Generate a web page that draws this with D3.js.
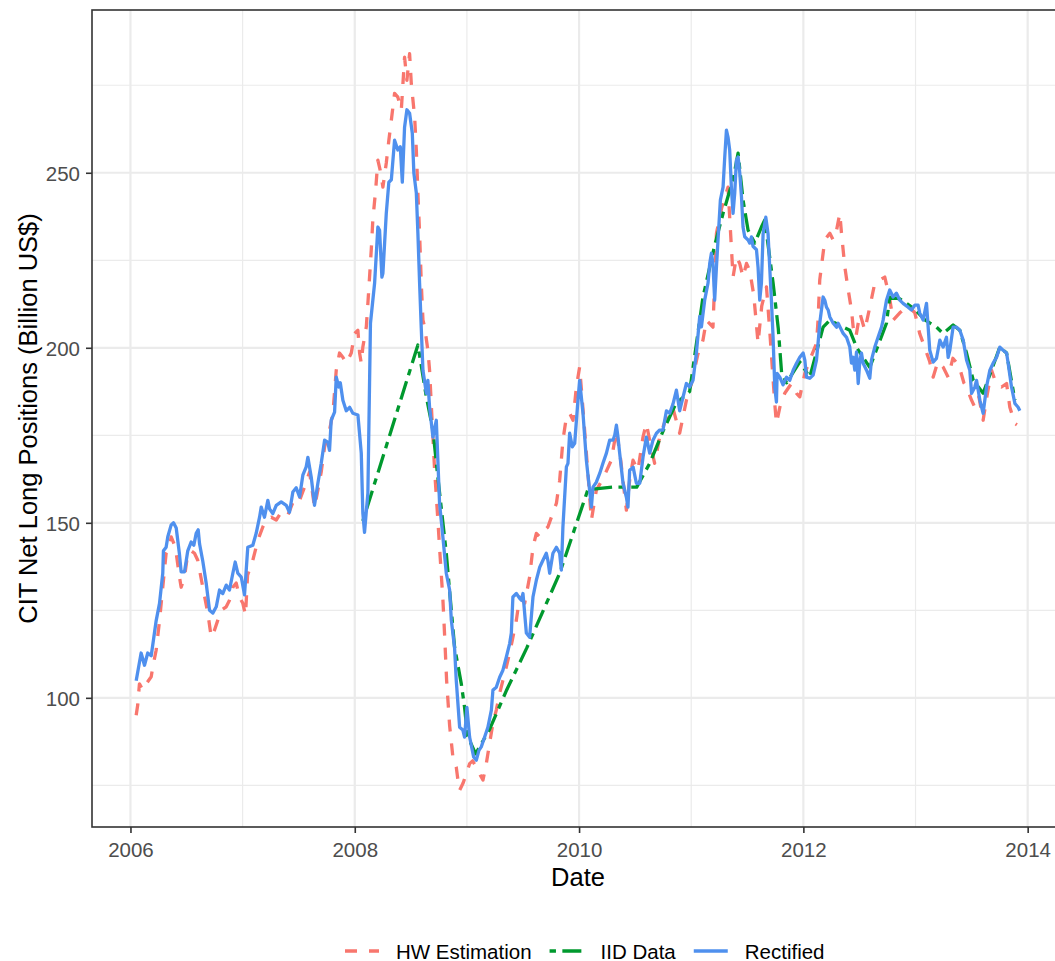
<!DOCTYPE html>
<html>
<head>
<meta charset="utf-8">
<script src="https://cdn.jsdelivr.net/npm/d3@7"></script>
<style>
  body { margin: 0; background: #ffffff; }
  svg { display: block; }
  text { font-family: "Liberation Sans", Arial, Helvetica, sans-serif; }
</style>
</head>
<body>
<svg id="chart" width="1055" height="961"></svg>
<script>
// ---- data (dates as decimal years, values in billion US$) ----
const seriesNames = ["HW Estimation", "IID Data", "Rectified"];
const xTickYears = [2006, 2008, 2010, 2012, 2014];
const xMinorYears = [2007, 2009, 2011, 2013];
const yTickValues = [100, 150, 200, 250];
const yMinorValues = [75, 125, 175, 225, 275];

const rectDates = [
  2006.051, 2006.095, 2006.125, 2006.154, 2006.185, 2006.205, 2006.229, 2006.259, 2006.288, 2006.294,
  2006.318, 2006.333, 2006.363, 2006.384, 2006.408, 2006.437, 2006.452, 2006.482, 2006.511, 2006.541,
  2006.565, 2006.586, 2006.604, 2006.616, 2006.645, 2006.675, 2006.705, 2006.734, 2006.765, 2006.794,
  2006.823, 2006.854, 2006.883, 2006.913, 2006.934, 2006.957, 2006.988, 2007.017, 2007.046, 2007.091,
  2007.121, 2007.151, 2007.166, 2007.195, 2007.225, 2007.240, 2007.269, 2007.300, 2007.344, 2007.389,
  2007.418, 2007.448, 2007.478, 2007.508, 2007.537, 2007.567, 2007.582, 2007.612, 2007.641, 2007.671,
  2007.701, 2007.731, 2007.760, 2007.775, 2007.790, 2007.820, 2007.835, 2007.858, 2007.871, 2007.894,
  2007.924, 2007.954, 2007.983, 2008.028, 2008.058, 2008.072, 2008.087, 2008.117, 2008.140, 2008.177,
  2008.206, 2008.221, 2008.242, 2008.251, 2008.281, 2008.304, 2008.326, 2008.355, 2008.384, 2008.406,
  2008.424, 2008.444, 2008.465, 2008.489, 2008.513, 2008.527, 2008.549, 2008.563, 2008.578, 2008.593,
  2008.608, 2008.638, 2008.652, 2008.667, 2008.697, 2008.727, 2008.741, 2008.756, 2008.786, 2008.816,
  2008.846, 2008.861, 2008.890, 2008.905, 2008.935, 2008.964, 2008.979, 2009.000, 2009.024, 2009.060,
  2009.084, 2009.107, 2009.128, 2009.158, 2009.187, 2009.218, 2009.232, 2009.262, 2009.292, 2009.321,
  2009.351, 2009.381, 2009.396, 2009.410, 2009.441, 2009.470, 2009.485, 2009.500, 2009.530, 2009.559,
  2009.589, 2009.619, 2009.649, 2009.678, 2009.708, 2009.722, 2009.738, 2009.767, 2009.798, 2009.827,
  2009.842, 2009.856, 2009.887, 2009.901, 2009.916, 2009.940, 2009.961, 2009.990, 2010.005, 2010.035,
  2010.065, 2010.094, 2010.110, 2010.124, 2010.154, 2010.184, 2010.213, 2010.244, 2010.273, 2010.302,
  2010.318, 2010.333, 2010.347, 2010.362, 2010.392, 2010.422, 2010.436, 2010.451, 2010.482, 2010.511,
  2010.541, 2010.570, 2010.600, 2010.630, 2010.659, 2010.690, 2010.719, 2010.748, 2010.779, 2010.808,
  2010.838, 2010.868, 2010.897, 2010.927, 2010.957, 2010.986, 2011.016, 2011.046, 2011.076, 2011.091,
  2011.120, 2011.150, 2011.165, 2011.180, 2011.194, 2011.209, 2011.225, 2011.239, 2011.260, 2011.284,
  2011.299, 2011.314, 2011.328, 2011.343, 2011.358, 2011.373, 2011.388, 2011.403, 2011.418, 2011.433,
  2011.448, 2011.462, 2011.477, 2011.507, 2011.522, 2011.537, 2011.551, 2011.582, 2011.596, 2011.611,
  2011.626, 2011.641, 2011.665, 2011.685, 2011.700, 2011.715, 2011.730, 2011.745, 2011.760, 2011.766,
  2011.790, 2011.819, 2011.850, 2011.879, 2011.909, 2011.939, 2011.968, 2011.998, 2012.013, 2012.028,
  2012.057, 2012.087, 2012.117, 2012.131, 2012.146, 2012.176, 2012.191, 2012.206, 2012.221, 2012.236,
  2012.266, 2012.296, 2012.310, 2012.355, 2012.385, 2012.414, 2012.429, 2012.444, 2012.459, 2012.474,
  2012.489, 2012.504, 2012.518, 2012.533, 2012.563, 2012.592, 2012.607, 2012.637, 2012.666, 2012.697,
  2012.711, 2012.741, 2012.770, 2012.800, 2012.830, 2012.860, 2012.889, 2012.934, 2012.964, 2012.994,
  2013.023, 2013.038, 2013.068, 2013.098, 2013.127, 2013.157, 2013.187, 2013.217, 2013.246, 2013.276,
  2013.291, 2013.306, 2013.335, 2013.366, 2013.395, 2013.425, 2013.455, 2013.484, 2013.500, 2013.529,
  2013.544, 2013.574, 2013.603, 2013.633, 2013.663, 2013.692, 2013.723, 2013.752, 2013.781, 2013.812,
  2013.826, 2013.856, 2013.886, 2013.915, 2013.930
];
const rectValues = [
  104.9, 112.8, 109.3, 112.8, 112.0, 116.5, 122.0, 127.0, 135.6, 142.0,
  143.0, 146.0, 149.4, 150.0, 148.5, 141.0, 136.0, 136.0, 142.0, 144.5,
  143.6, 147.0, 148.0, 144.0, 139.0, 132.8, 125.0, 124.2, 126.0, 130.8,
  129.8, 132.2, 130.8, 135.6, 138.8, 135.6, 134.5, 129.4, 143.0, 143.6,
  147.0, 151.6, 154.5, 151.6, 156.4, 154.0, 152.6, 155.0, 156.0, 155.0,
  153.0, 158.8, 160.0, 157.4, 163.6, 166.0, 168.7, 163.0, 155.0, 161.3,
  167.0, 173.6, 173.0, 170.7, 179.3, 181.6, 191.6, 188.8, 190.0, 185.0,
  182.0, 183.0, 181.3, 180.8, 169.9, 152.8, 147.3, 158.5, 207.0, 218.5,
  234.5, 233.6, 220.2, 221.3, 238.4, 247.3, 248.0, 259.3, 256.5, 257.4,
  247.3, 263.0, 268.0, 267.0, 261.3, 249.9, 244.2, 232.7, 218.5, 205.6,
  193.6, 187.0, 190.7, 183.0, 174.5, 179.3, 167.9, 155.6, 145.9, 135.6,
  130.8, 122.2, 114.2, 105.0, 91.6, 90.8, 88.8, 97.3, 88.8, 83.1,
  82.2, 85.0, 86.0, 88.8, 91.6, 96.5, 102.2, 103.0, 105.9, 107.9,
  111.6, 115.5, 118.5, 128.8, 129.8, 128.4, 127.9, 129.8, 118.5, 117.3,
  128.8, 133.6, 137.3, 139.3, 141.3, 139.3, 135.6, 141.3, 143.0, 141.3,
  136.5, 148.8, 166.0, 167.0, 175.6, 171.7, 172.7, 185.0, 190.7, 181.3,
  167.9, 159.3, 154.5, 160.2, 161.6, 164.1, 167.0, 169.9, 173.6, 173.6,
  175.0, 177.9, 174.5, 169.9, 161.3, 157.3, 154.5, 165.0, 165.9, 161.3,
  161.3, 168.7, 174.5, 169.9, 173.6, 175.6, 176.5, 176.5, 182.0, 181.3,
  184.0, 187.9, 182.0, 185.9, 189.8, 188.8, 190.7, 198.5, 209.0, 206.0,
  213.6, 218.5, 224.1, 227.0, 224.1, 213.6, 223.0, 230.8, 242.2, 245.9,
  254.5, 262.2, 260.2, 256.5, 245.9, 238.4, 244.2, 253.6, 254.5, 249.9,
  243.2, 234.5, 231.7, 230.8, 229.9, 231.7, 229.0, 228.0, 223.0, 213.6,
  218.5, 232.6, 237.3, 232.6, 223.0, 213.6, 203.0, 188.8, 184.5, 192.7,
  191.6, 189.4, 191.6, 190.7, 193.6, 195.6, 197.3, 198.5, 196.5, 191.6,
  191.3, 192.2, 196.5, 201.3, 207.0, 214.5, 213.6, 211.6, 210.8, 208.8,
  207.0, 205.9, 207.0, 204.1, 203.0, 200.2, 195.6, 197.3, 193.6, 198.8,
  189.8, 196.5, 198.5, 195.6, 193.6, 191.3, 196.5, 200.2, 203.0, 205.9,
  207.9, 213.6, 216.5, 214.5, 215.6, 213.6, 212.7, 211.6, 210.8, 212.2,
  212.2, 209.9, 207.9, 212.7, 199.3, 195.9, 197.0, 202.2, 200.2, 203.0,
  197.3, 199.3, 205.9, 205.9, 205.0, 202.2, 196.5, 193.6, 187.0, 188.8,
  190.7, 185.0, 181.3, 188.8, 193.6, 195.6, 197.3, 200.2, 199.3, 198.5,
  195.6, 188.8, 184.1, 183.0, 182.0
];

const hwDates = [
  2006.051, 2006.065, 2006.080, 2006.110, 2006.140, 2006.185, 2006.199, 2006.229, 2006.259, 2006.288,
  2006.318, 2006.348, 2006.363, 2006.401, 2006.437, 2006.452, 2006.482, 2006.511, 2006.541, 2006.571,
  2006.600, 2006.616, 2006.645, 2006.690, 2006.720, 2006.749, 2006.779, 2006.809, 2006.854, 2006.883,
  2006.913, 2006.943, 2006.972, 2007.002, 2007.026, 2007.044, 2007.091, 2007.136, 2007.180, 2007.211,
  2007.255, 2007.300, 2007.344, 2007.401, 2007.463, 2007.508, 2007.552, 2007.597, 2007.641, 2007.671,
  2007.701, 2007.731, 2007.775, 2007.805, 2007.835, 2007.864, 2007.894, 2007.924, 2007.969, 2007.998,
  2008.028, 2008.043, 2008.058, 2008.072, 2008.103, 2008.117, 2008.147, 2008.161, 2008.186, 2008.206,
  2008.227, 2008.251, 2008.281, 2008.304, 2008.326, 2008.355, 2008.384, 2008.415, 2008.444, 2008.465,
  2008.489, 2008.504, 2008.534, 2008.549, 2008.563, 2008.578, 2008.593, 2008.608, 2008.623, 2008.652,
  2008.667, 2008.712, 2008.741, 2008.756, 2008.786, 2008.801, 2008.819, 2008.846, 2008.875, 2008.905,
  2008.920, 2008.935, 2008.964, 2008.995, 2009.024, 2009.051, 2009.084, 2009.113, 2009.143, 2009.173,
  2009.202, 2009.232, 2009.262, 2009.292, 2009.321, 2009.351, 2009.381, 2009.405, 2009.441, 2009.470,
  2009.515, 2009.559, 2009.589, 2009.619, 2009.649, 2009.693, 2009.722, 2009.753, 2009.798, 2009.827,
  2009.856, 2009.887, 2009.916, 2009.946, 2009.976, 2010.005, 2010.041, 2010.077, 2010.110, 2010.154,
  2010.219, 2010.288, 2010.333, 2010.371, 2010.422, 2010.451, 2010.481, 2010.525, 2010.570, 2010.600,
  2010.639, 2010.674, 2010.719, 2010.779, 2010.835, 2010.897, 2010.957, 2011.004, 2011.058, 2011.105,
  2011.135, 2011.194, 2011.225, 2011.272, 2011.328, 2011.343, 2011.358, 2011.373, 2011.403, 2011.433,
  2011.462, 2011.493, 2011.522, 2011.558, 2011.596, 2011.629, 2011.671, 2011.700, 2011.745, 2011.760,
  2011.790, 2011.834, 2011.894, 2011.939, 2011.968, 2012.013, 2012.057, 2012.117, 2012.131, 2012.146,
  2012.191, 2012.236, 2012.266, 2012.296, 2012.325, 2012.340, 2012.370, 2012.400, 2012.429, 2012.444,
  2012.468, 2012.504, 2012.548, 2012.592, 2012.637, 2012.682, 2012.726, 2012.770, 2012.800, 2012.860,
  2012.931, 2012.994, 2013.038, 2013.083, 2013.127, 2013.157, 2013.199, 2013.246, 2013.291, 2013.333,
  2013.387, 2013.431, 2013.455, 2013.500, 2013.529, 2013.565, 2013.603, 2013.636, 2013.678, 2013.716,
  2013.767, 2013.812, 2013.841, 2013.886, 2013.904
];
const hwValues = [
  95.0, 98.0, 104.0, 102.2, 104.0, 106.0, 108.8, 113.6, 122.0, 131.6,
  141.3, 143.0, 146.0, 143.0, 134.5, 131.6, 134.5, 141.3, 142.0, 141.3,
  139.3, 136.5, 131.6, 124.2, 117.3, 119.3, 122.2, 125.0, 126.0, 127.9,
  131.6, 132.8, 128.8, 127.0, 123.6, 135.0, 139.3, 145.0, 148.8, 150.8,
  151.6, 150.8, 153.0, 152.0, 157.0, 156.4, 160.2, 164.5, 154.5, 159.3,
  164.5, 171.7, 176.5, 181.3, 193.6, 198.5, 197.3, 195.6, 198.5, 204.1,
  205.0, 198.5, 195.6, 200.2, 206.0, 212.7, 227.9, 236.5, 245.0, 253.6,
  250.7, 245.9, 252.8, 259.3, 265.0, 272.7, 271.6, 267.9, 283.0, 276.4,
  284.0, 275.5, 265.9, 256.5, 244.2, 232.7, 218.5, 207.9, 205.9, 199.3,
  193.6, 165.0, 150.8, 143.0, 128.0, 118.0, 105.0, 92.0, 83.1, 80.2,
  76.5, 73.6, 75.5, 78.3, 81.2, 82.0, 80.2, 78.3, 76.5, 81.2,
  87.0, 92.7, 96.5, 101.3, 105.0, 108.8, 112.8, 116.5, 122.2, 128.8,
  127.0, 134.5, 143.0, 147.0, 146.0, 147.9, 148.8, 151.6, 155.6, 162.1,
  173.6, 180.2, 181.3, 179.3, 188.8, 194.5, 180.0, 165.0, 150.8, 159.3,
  163.0, 167.9, 176.5, 168.0, 153.6, 162.1, 167.9, 165.0, 174.5, 178.4,
  172.0, 167.0, 174.5, 180.2, 183.0, 175.6, 185.0, 190.0, 198.0, 202.2,
  207.9, 205.9, 232.7, 240.0, 245.9, 237.3, 228.8, 220.2, 226.0, 224.0,
  220.2, 224.1, 222.0, 215.0, 201.3, 212.0, 217.4, 205.0, 184.0, 178.4,
  183.0, 187.0, 189.8, 187.0, 186.0, 192.7, 196.5, 201.3, 207.9, 219.4,
  230.8, 232.7, 230.8, 233.6, 238.4, 232.7, 223.0, 216.5, 210.8, 205.9,
  203.0, 209.9, 205.0, 211.6, 218.5, 219.4, 220.2, 214.0, 207.9, 210.0,
  212.0, 210.0, 204.0, 200.0, 196.0, 191.6, 196.0, 194.5, 191.6, 197.0,
  195.0, 190.0, 188.8, 185.0, 183.0, 186.0, 179.3, 186.0, 193.6, 190.0,
  188.8, 189.8, 183.0, 178.4, 178.0
];

const iidDates = [
  2008.072, 2008.563, 2008.638, 2008.697, 2008.741, 2008.816, 2008.890, 2008.950, 2008.979,
  2009.006, 2009.078, 2009.202, 2009.351, 2009.533, 2009.827, 2010.079, 2010.300, 2010.514, 2010.630,
  2010.746, 2010.862, 2010.986, 2011.105, 2011.209, 2011.284, 2011.328, 2011.373, 2011.418, 2011.462,
  2011.507, 2011.567, 2011.626, 2011.656, 2011.730, 2011.776, 2011.806, 2011.850, 2011.968, 2012.057,
  2012.176, 2012.236, 2012.355, 2012.414, 2012.476, 2012.592, 2012.741, 2012.770, 2012.860, 2012.994,
  2013.083, 2013.187, 2013.246, 2013.335, 2013.395, 2013.455, 2013.515, 2013.603, 2013.752, 2013.812,
  2013.886
];
const iidValues = [
  150.5, 200.8, 186.0, 176.5, 163.0, 141.3, 114.5, 104.0, 97.3,
  89.0, 84.0, 91.0, 102.0, 114.2, 135.6, 159.5, 160.2, 160.2, 167.0,
  176.0, 184.0, 187.5, 214.5, 229.3, 238.4, 243.2, 248.0, 255.6, 242.2,
  233.6, 229.9, 234.5, 236.5, 218.5, 205.6, 192.8, 190.0, 196.0, 191.6,
  205.9, 207.9, 205.9, 205.0, 200.0, 194.4, 207.0, 214.5, 214.0, 211.0,
  208.0, 205.9, 204.1, 206.5, 205.0, 198.5, 190.7, 187.0, 200.2, 198.5,
  185.0
];

// ---- layout ----
const W = 1055, H = 961;
const panel = { left: 92, top: 10, right: 1064, bottom: 827 };
const lineWidth = 3.3;

const svg = d3.select("#chart");
svg.append("rect").attr("width", W).attr("height", H).attr("fill", "#ffffff");

const allDates = rectDates.concat(hwDates, iidDates);
const [dMin, dMax] = d3.extent(allDates);
const pad = (dMax - dMin) * 0.05;

const x = d3.scaleLinear()
  .domain([dMin - pad, dMax + pad])
  .range([panel.left, panel.right]);

const y = d3.scaleLinear()
  .domain([63.1, 296.5])
  .range([panel.bottom, panel.top]);

// grid lines
const grid = svg.append("g");
grid.selectAll("line.ymin").data(yMinorValues).join("line")
  .attr("x1", panel.left).attr("x2", panel.right)
  .attr("y1", d => y(d)).attr("y2", d => y(d))
  .attr("stroke", "#ebebeb").attr("stroke-width", 1.2);
grid.selectAll("line.xmin").data(xMinorYears).join("line")
  .attr("x1", d => x(d)).attr("x2", d => x(d))
  .attr("y1", panel.top).attr("y2", panel.bottom)
  .attr("stroke", "#ebebeb").attr("stroke-width", 1.2);
grid.selectAll("line.ymaj").data(yTickValues).join("line")
  .attr("x1", panel.left).attr("x2", panel.right)
  .attr("y1", d => y(d)).attr("y2", d => y(d))
  .attr("stroke", "#ebebeb").attr("stroke-width", 2.2);
grid.selectAll("line.xmaj").data(xTickYears).join("line")
  .attr("x1", d => x(d)).attr("x2", d => x(d))
  .attr("y1", panel.top).attr("y2", panel.bottom)
  .attr("stroke", "#ebebeb").attr("stroke-width", 2.2);

// series
const clipId = "panel-clip";
svg.append("clipPath").attr("id", clipId).append("rect")
  .attr("x", panel.left).attr("y", panel.top)
  .attr("width", panel.right - panel.left).attr("height", panel.bottom - panel.top);

const series = [
  { name: seriesNames[0], dates: hwDates, values: hwValues, color: "#f8766d", dash: "12,12" },
  { name: seriesNames[1], dates: iidDates, values: iidValues, color: "#00992e", dash: "6.4,6.4,19,6.4" },
  { name: seriesNames[2], dates: rectDates, values: rectValues, color: "#4f90ee", dash: null }
];

const line = d3.line().x(d => x(d[0])).y(d => y(d[1]));
const lines = svg.append("g").attr("clip-path", `url(#${clipId})`);
series.forEach(s => {
  const pts = d3.zip(s.dates, s.values);
  lines.append("path")
    .attr("d", line(pts))
    .attr("fill", "none")
    .attr("stroke", s.color)
    .attr("stroke-width", lineWidth)
    .attr("stroke-linejoin", "round")
    .attr("stroke-linecap", "butt")
    .attr("stroke-dasharray", s.dash);
});

// panel border
svg.append("rect")
  .attr("x", panel.left).attr("y", panel.top)
  .attr("width", panel.right - panel.left).attr("height", panel.bottom - panel.top)
  .attr("fill", "none").attr("stroke", "#333333").attr("stroke-width", 1.6);

// axes
const xAxis = d3.axisBottom(x).tickValues(xTickYears).tickFormat(d3.format("d"))
  .tickSizeInner(6).tickSizeOuter(0).tickPadding(6);
const gx = svg.append("g").attr("transform", `translate(0,${panel.bottom})`).call(xAxis);
gx.select(".domain").remove();
gx.selectAll(".tick line").attr("stroke", "#333333").attr("stroke-width", 1.6);
gx.selectAll(".tick text").attr("fill", "#4d4d4d").attr("font-size", 20.5)
  .attr("font-family", "Liberation Sans, Arial, sans-serif")
  .attr("dy", null).attr("y", 30);

const yAxis = d3.axisLeft(y).tickValues(yTickValues).tickFormat(d3.format("d"))
  .tickSizeInner(6).tickSizeOuter(0).tickPadding(6);
const gy = svg.append("g").attr("transform", `translate(${panel.left},0)`).call(yAxis);
gy.select(".domain").remove();
gy.selectAll(".tick line").attr("stroke", "#333333").attr("stroke-width", 1.6);
gy.selectAll(".tick text").attr("fill", "#4d4d4d").attr("font-size", 20.5)
  .attr("font-family", "Liberation Sans, Arial, sans-serif")
  .attr("x", -12).attr("dy", "0.36em");

// axis titles
svg.append("text")
  .attr("x", (panel.left + panel.right) / 2).attr("y", 886)
  .attr("text-anchor", "middle").attr("font-size", 25.5).attr("fill", "#000")
  .text("Date");
svg.append("text")
  .attr("transform", `translate(36.5,${(panel.top + panel.bottom) / 2}) rotate(-90)`)
  .attr("text-anchor", "middle").attr("font-size", 25.5).attr("fill", "#000")
  .text("CIT Net Long Positions (Billion US$)");

// legend
const legend = svg.append("g");
let cursor = 345;
const keyW = 34, legendY = 951;
series.forEach(s => {
  legend.append("line")
    .attr("x1", cursor).attr("x2", cursor + keyW)
    .attr("y1", legendY).attr("y2", legendY)
    .attr("stroke", s.color).attr("stroke-width", lineWidth)
    .attr("stroke-dasharray", s.dash);
  const t = legend.append("text")
    .attr("x", cursor + keyW + 17).attr("y", legendY + 7.5)
    .attr("font-size", 20.5).attr("fill", "#000")
    .text(s.name);
  cursor += keyW + 17 + t.node().getComputedTextLength() + 18;
});
</script>
</body>
</html>
